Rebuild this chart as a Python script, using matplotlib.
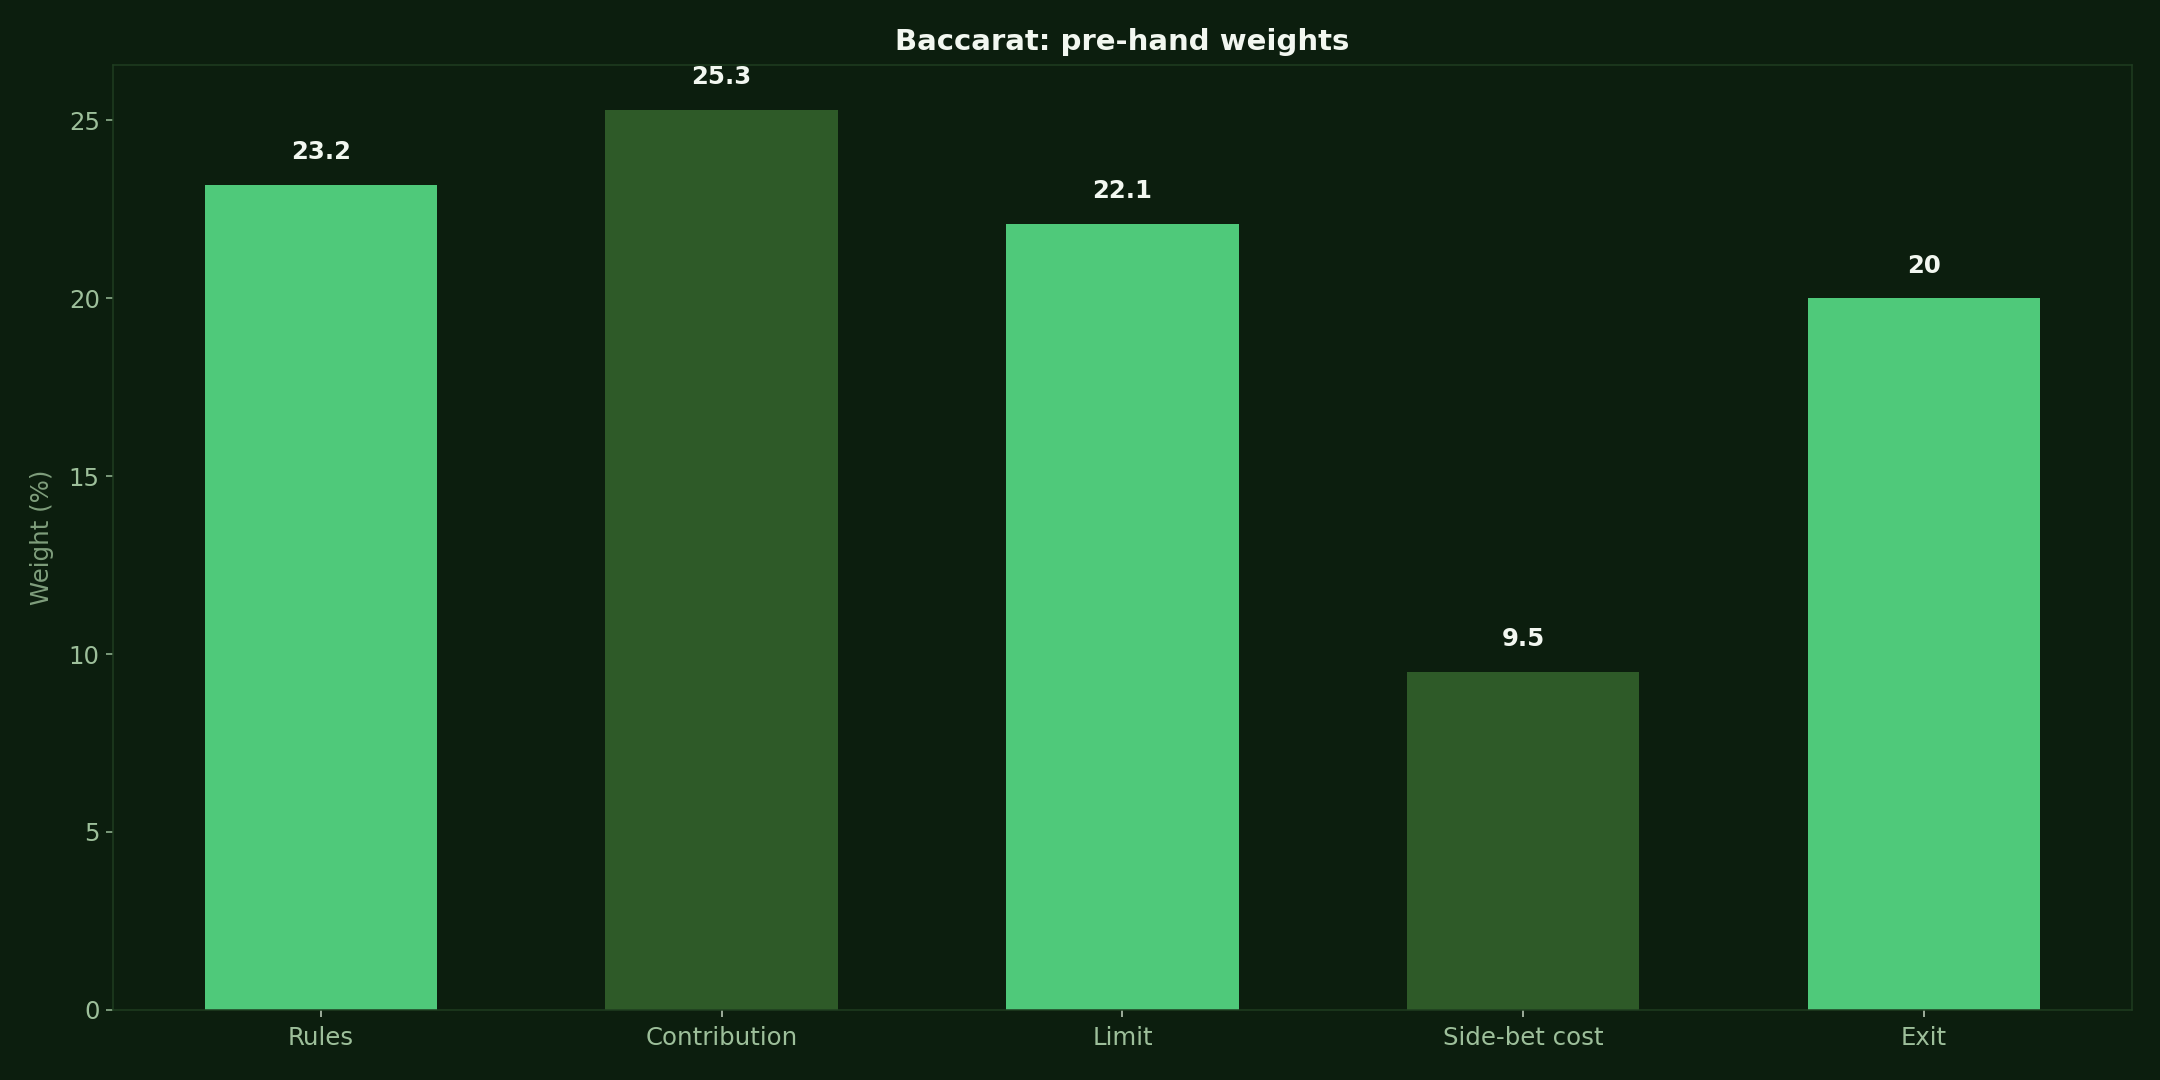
import matplotlib.pyplot as plt

# Data
categories = ["Rules", "Contribution", "Limit", "Side-bet cost", "Exit"]
weights = [23.2, 25.3, 22.1, 9.5, 20]
highlight = [False, True, False, True, False]

bg = "#0c1e0e"
light = "#4fc97a"
dark = "#2e5a28"
spine = "#1f3d20"
tick_col = "#9dbf9a"

fig, ax = plt.subplots(figsize=(16, 8), dpi=135)
fig.patch.set_facecolor(bg)
ax.set_facecolor(bg)

colors = [dark if h else light for h in highlight]
bars = ax.bar(categories, weights, width=0.58, color=colors)
ax.set_ylim(0, max(weights) * 1.05)

for b, v in zip(bars, weights):
    ax.annotate(f"{v:g}", (b.get_x() + b.get_width() / 2, b.get_height()),
                xytext=(0, 11), textcoords="offset points", ha="center", va="bottom",
                color="#f2f7f0", fontsize=13, fontweight="bold")

ax.set_title("Baccarat: pre-hand weights", color="#f2f7f0", fontsize=15.5,
             fontweight="bold", pad=8)
ax.set_ylabel("Weight (%)", color="#7f9e7c", fontsize=13, labelpad=8)
ax.tick_params(colors=tick_col, labelsize=13)
ax.tick_params(axis="x", color="#c8d8c5", pad=5)
for s in ax.spines.values():
    s.set_color(spine)

plt.subplots_adjust(left=0.0523, right=0.987, top=0.94, bottom=0.065)
plt.savefig("out.png", facecolor=bg)
